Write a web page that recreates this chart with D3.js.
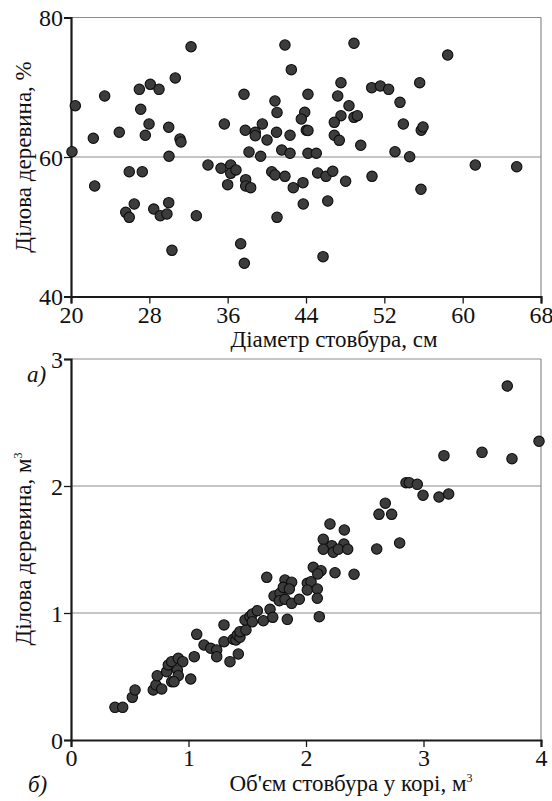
<!DOCTYPE html>
<html>
<head>
<meta charset="utf-8">
<script src="https://cdn.jsdelivr.net/npm/d3@7"></script>
<style>
  body { margin: 0; background: #fff; }
</style>
</head>
<body>
<svg width="552" height="801"></svg>
<script>
// (а) diameter, cm  vs  share of merchantable wood, %
const diameter = [32.26, 20.44, 20.1, 22.28, 23.44, 24.93, 26.98, 28.1, 28.99, 27.12,
  27.97, 27.59, 30.65, 29.98, 31.13, 31.23, 30.01, 35.66, 37.67, 37.8,
  38.18, 38.82, 38.82, 39.54, 40.02, 39.37, 40.83, 41.04, 40.99, 22.42,
  25.95, 27.28, 26.46, 25.59, 25.95, 28.45, 29.12, 29.8, 29.98, 30.31,
  32.8, 33.99, 35.32, 36.31, 36.31, 36.85, 36.0, 37.84, 37.84, 38.35,
  37.33, 37.7, 40.5, 40.83, 41.04, 41.85, 48.9, 58.47, 42.5, 47.57,
  44.2, 47.24, 50.71, 51.59, 52.44, 55.61, 53.6, 48.39, 43.87, 43.52,
  47.57, 48.9, 49.24, 46.89, 42.37, 44.03, 44.2, 46.89, 47.4, 49.59,
  53.94, 55.77, 55.95, 41.52, 42.37, 44.2, 45.05, 53.09, 54.59, 61.29,
  65.52, 41.85, 42.7, 43.69, 43.72, 45.19, 46.04, 46.73, 46.22, 48.05,
  50.74, 55.74, 45.74];
const sharePct = [75.8, 67.35, 60.76, 62.68, 68.75, 63.54, 69.7, 70.42, 69.7, 66.84,
  64.73, 63.11, 71.33, 64.26, 62.58, 62.15, 60.1, 64.73, 68.99, 63.83,
  60.72, 63.54, 63.05, 64.73, 62.44, 60.1, 68.03, 66.38, 63.54, 55.84,
  57.89, 57.89, 53.26, 52.07, 51.35, 52.54, 51.58, 51.83, 53.45, 46.62,
  51.58, 58.85, 58.38, 58.85, 57.66, 58.14, 56.03, 56.75, 55.84, 55.6,
  47.57, 44.76, 57.89, 57.42, 51.35, 76.06, 76.3, 74.62, 72.52, 70.65,
  68.99, 68.75, 69.94, 70.18, 69.7, 70.65, 67.84, 67.35, 66.41, 65.45,
  65.92, 65.69, 65.92, 64.97, 63.11, 63.83, 63.8, 63.11, 62.39, 61.68,
  64.73, 63.83, 64.3, 61.0, 60.53, 60.53, 60.53, 60.76, 60.04, 58.85,
  58.61, 57.23, 55.6, 56.32, 53.26, 57.71, 57.23, 57.95, 53.69, 56.52,
  57.23, 55.37, 45.71];

// (б) stem volume over bark, m3  vs  merchantable wood, m3
const volume = [0.374, 0.44, 0.522, 0.545, 0.70, 0.723, 0.772, 0.734, 0.814, 0.828,
  0.857, 0.913, 0.951, 0.905, 0.913, 0.857, 0.877, 1.019, 1.049, 1.07,
  1.132, 1.189, 1.24, 1.24, 1.302, 1.302, 1.353, 1.424, 1.381, 1.404,
  1.415, 1.438, 1.438, 1.489, 1.481, 1.523, 1.543, 1.543, 1.586, 1.637,
  1.666, 1.694, 1.717, 1.728, 1.779, 1.773, 1.821, 1.878, 1.807, 1.858,
  1.821, 1.878, 1.943, 1.841, 2.011, 2.043, 2.011, 2.096, 2.096, 2.113,
  2.062, 2.128, 2.1, 2.247, 2.409, 2.147, 2.204, 2.326, 2.219, 2.323,
  2.147, 2.232, 2.275, 2.355, 2.602, 2.797, 2.621, 2.729, 2.675, 2.851,
  2.879, 2.947, 2.996, 3.132, 3.214, 3.174, 3.498, 3.753, 3.713, 3.983];
const merchVol = [0.257, 0.257, 0.336, 0.394, 0.394, 0.433, 0.402, 0.506, 0.538, 0.591,
  0.617, 0.643, 0.617, 0.551, 0.506, 0.459, 0.459, 0.48, 0.656, 0.832,
  0.748, 0.722, 0.709, 0.656, 0.906, 0.774, 0.617, 0.677, 0.793, 0.787,
  0.827, 0.809, 0.853, 0.866, 0.945, 0.971, 0.992, 0.931, 1.018, 0.939,
  1.281, 1.029, 0.966, 1.134, 1.155, 1.097, 1.26, 1.242, 1.202, 1.189,
  1.108, 1.076, 1.108, 0.95, 1.234, 1.246, 1.181, 1.189, 1.116, 0.971,
  1.36, 1.333, 1.307, 1.317, 1.305, 1.58, 1.701, 1.654, 1.53, 1.543,
  1.502, 1.478, 1.502, 1.502, 1.504, 1.551, 1.777, 1.777, 1.864, 2.026,
  2.026, 2.013, 1.927, 1.913, 1.937, 2.239, 2.265, 2.215, 2.787, 2.352];

const topXTicks = [20, 28, 36, 44, 52, 60, 68];
const topYTicks = [40, 60, 80];
const botXTicks = [0, 1, 2, 3, 4];
const botYTicks = [0, 1, 2, 3];

const serif = "'Liberation Serif'";
const svg = d3.select("svg");

function drawPanel(opts) {
  const { xs, ys, xDomain, yDomain, xTicks, yTicks, grid, left, right, top, bottom } = opts;
  const x = d3.scaleLinear().domain(xDomain).range([left, right]);
  const y = d3.scaleLinear().domain(yDomain).range([bottom, top]);
  const g = svg.append("g");

  // gridlines + frame (top / right in gray)
  g.selectAll(".grid").data(grid).enter().append("line")
    .attr("x1", left).attr("x2", right)
    .attr("y1", d => y(d)).attr("y2", d => y(d))
    .attr("stroke", "#8c8c8c").attr("stroke-width", 1.2);
  g.append("line").attr("x1", left).attr("x2", right).attr("y1", top).attr("y2", top)
    .attr("stroke", "#8c8c8c").attr("stroke-width", 1.2);
  g.append("line").attr("x1", right).attr("x2", right).attr("y1", top).attr("y2", bottom)
    .attr("stroke", "#8c8c8c").attr("stroke-width", 1.2);

  // axes
  const xAxis = g.append("g")
    .attr("transform", `translate(0,${bottom})`)
    .call(d3.axisBottom(x).tickValues(xTicks).tickFormat(d => d).tickSize(7).tickPadding(2));
  const yAxis = g.append("g")
    .attr("transform", `translate(${left},0)`)
    .call(d3.axisLeft(y).tickValues(yTicks).tickFormat(d => d).tickSize(7).tickPadding(1));
  [xAxis, yAxis].forEach(a => {
    a.attr("font-family", null).attr("font-size", null);
    a.select(".domain").attr("stroke", "#1a1a1a").attr("stroke-width", 2.2);
    a.selectAll(".tick line").attr("stroke", "#1a1a1a").attr("stroke-width", 1.3);
    a.selectAll(".tick text")
      .style("font-family", serif).style("font-size", "24px").attr("fill", "#111");
  });
  yAxis.selectAll(".tick text").attr("dy", "0.34em");

  // points
  g.selectAll(".dot").data(xs.map((v, i) => [v, ys[i]])).enter().append("circle")
    .attr("cx", d => x(d[0]))
    .attr("cy", d => y(d[1]))
    .attr("r", 5.2)
    .attr("fill", "#3c3c3c")
    .attr("stroke", "#0d0d0d")
    .attr("stroke-width", 1.1);
  return g;
}

// panel а)
drawPanel({
  xs: diameter, ys: sharePct, xDomain: [20, 68], yDomain: [40, 80],
  xTicks: topXTicks, yTicks: topYTicks, grid: [60],
  left: 71, right: 541, top: 17.5, bottom: 296.5
});

// panel б)
drawPanel({
  xs: volume, ys: merchVol, xDomain: [0, 4], yDomain: [0, 3],
  xTicks: botXTicks, yTicks: botYTicks, grid: [1, 2],
  left: 71, right: 541, top: 359, bottom: 740
});

function label(sel) {
  return sel.style("font-family", serif).style("font-size", "23px").attr("fill", "#111");
}

// axis titles
label(svg.append("text"))
  .attr("x", 334).attr("y", 347)
  .attr("text-anchor", "middle")
  .text("Діаметр стовбура, см");

label(svg.append("text"))
  .attr("transform", "translate(31,157) rotate(-90)")
  .attr("text-anchor", "middle")
  .text("Ділова деревина, %");

const xt2 = label(svg.append("text"))
  .attr("x", 351).attr("y", 791)
  .attr("text-anchor", "middle");
xt2.append("tspan").text("Об'єм стовбура у корі, м");
xt2.append("tspan").attr("dy", "-0.75em").style("font-size", "12px").text("3");

const yt2 = label(svg.append("text"))
  .attr("transform", "translate(31,549) rotate(-90)")
  .attr("text-anchor", "middle");
yt2.append("tspan").text("Ділова деревина, м");
yt2.append("tspan").attr("dy", "-0.75em").style("font-size", "12px").text("3");

// panel letters
label(svg.append("text")).attr("x", 27).attr("y", 382)
  .style("font-style", "italic").text("а)");
label(svg.append("text")).attr("x", 28).attr("y", 792)
  .style("font-style", "italic").text("б)");
</script>
</body>
</html>
